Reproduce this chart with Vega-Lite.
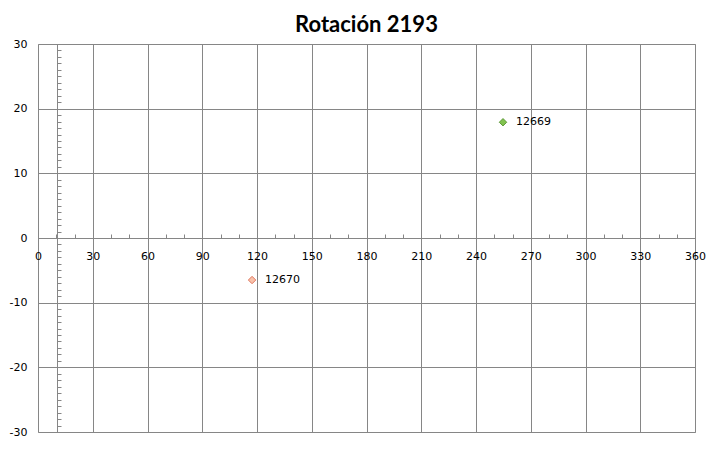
{
  "$schema": "https://vega.github.io/schema/vega-lite/v6.json",
  "width": 657,
  "height": 388,
  "autosize": {"type": "none"},
  "padding": {"left": 38, "top": 44, "right": 28, "bottom": 28},
  "background": "white",
  "title": {"text": "Rotación 2193", "font": "Lato", "fontSize": 22, "fontWeight": "bold", "color": "black", "anchor": "middle", "offset": 1},
  "config": {
    "view": {"stroke": "#868686", "strokeWidth": 1},
    "axis": {"labelFont": "DejaVu Sans", "labelFontSize": 11, "labelColor": "black", "gridColor": "#868686", "gridOpacity": 1, "gridWidth": 1, "domainColor": "#868686", "tickColor": "#868686", "title": null}
  },
  "data": {"values": [
    {"x": 254.8, "y": 17.9, "label": "12669", "series": "12669"},
    {"x": 117.3, "y": -6.5, "label": "12670", "series": "12670"}
  ]},
  "resolve": {"axis": {"x": "independent", "y": "independent"}},
  "layer": [
    {
      "mark": {"type": "point", "shape": "diamond", "filled": true, "size": 55, "strokeWidth": 1, "opacity": 1},
      "encoding": {
        "x": {"field": "x", "type": "quantitative", "scale": {"domain": [0, 360], "nice": false, "zero": false},
          "axis": {"orient": "bottom", "offset": -194, "values": [0,10,20,30,40,50,60,70,80,90,100,110,120,130,140,150,160,170,180,190,200,210,220,230,240,250,260,270,280,290,300,310,320,330,340,350,360],
            "labelExpr": "datum.value % 30 == 0 ? datum.label : ''", "grid": false, "domain": true, "ticks": true, "tickSize": -4, "labelPadding": 16, "labelFlush": false, "labelOverlap": false}},
        "y": {"field": "y", "type": "quantitative", "scale": {"domain": [-30, 30], "nice": false, "zero": false},
          "axis": {"orient": "left", "values": [-30,-20,-10,0,10,20,30], "labelExpr": "'' + datum.value", "grid": true, "domain": false, "ticks": false, "labelPadding": 11, "labelFlush": false, "labelOverlap": false}},
        "fill": {"field": "series", "type": "nominal", "scale": {"domain": ["12669", "12670"], "range": ["#82c34f", "#f9c2aa"]}, "legend": null},
        "stroke": {"field": "series", "type": "nominal", "scale": {"domain": ["12669", "12670"], "range": ["#5f9a3a", "#e07860"]}, "legend": null}
      }
    },
    {
      "mark": {"type": "text", "align": "left", "baseline": "middle", "dx": 13, "font": "DejaVu Sans", "fontSize": 11, "color": "black"},
      "encoding": {
        "x": {"field": "x", "type": "quantitative", "scale": {"domain": [0, 360], "nice": false, "zero": false},
          "axis": {"orient": "bottom", "values": [30,60,90,120,150,180,210,240,270,300,330], "grid": true, "domain": false, "ticks": false, "labels": false}},
        "y": {"field": "y", "type": "quantitative", "scale": {"domain": [-30, 30], "nice": false, "zero": false},
          "axis": {"orient": "left", "offset": -19, "values": [-30,-29,-28,-27,-26,-25,-24,-23,-22,-21,-20,-19,-18,-17,-16,-15,-14,-13,-12,-11,-10,-9,-8,-7,-6,-5,-4,-3,-2,-1,0,1,2,3,4,5,6,7,8,9,10,11,12,13,14,15,16,17,18,19,20,21,22,23,24,25,26,27,28,29,30],
            "grid": false, "domain": true, "ticks": true, "tickSize": -4, "labels": false}},
        "text": {"field": "label", "type": "nominal"}
      }
    }
  ]
}
